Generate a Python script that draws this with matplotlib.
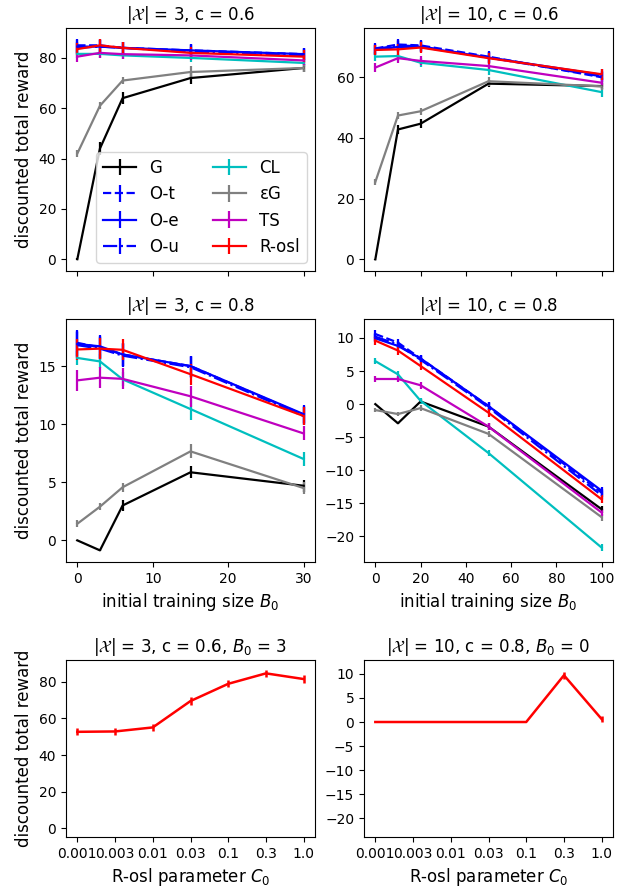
import matplotlib
matplotlib.use("Agg")
import matplotlib.pyplot as plt
import numpy as np

methods = ["G", "O-t", "O-e", "O-u", "CL", "εG", "TS", "R-osl"]
colors = ["k", "b", "b", "b", "c", "gray", "m", "r"]
styles = ["-", "--", "-", "-.", "-", "-", "-", "-"]

B0_small = [0, 3, 6, 15, 30]
B0_large = [0, 10, 20, 50, 100]

# |X|=3, c=0.6
tl_vals = {
    "G":     [0.0, 44.0, 64.0, 72.0, 76.0],
    "O-t":   [85.0, 85.0, 84.0, 83.0, 81.5],
    "O-e":   [84.5, 84.5, 84.0, 83.0, 81.5],
    "O-u":   [84.0, 84.5, 84.0, 82.5, 81.0],
    "CL":    [81.6, 81.6, 81.0, 80.0, 78.0],
    "εG":    [42.0, 61.0, 71.0, 74.4, 76.0],
    "TS":    [80.5, 82.0, 81.5, 81.0, 79.0],
    "R-osl": [83.5, 85.0, 84.0, 82.0, 80.5],
}
tl_err = {
    "G":     [0.3, 2.5, 2.5, 2.5, 1.5],
    "O-t":   [2.5, 2.5, 2.5, 2.5, 2.5],
    "O-e":   [2.5, 2.5, 2.5, 2.5, 2.5],
    "O-u":   [2.5, 2.5, 2.5, 2.5, 2.5],
    "CL":    [1.5, 1.5, 1.5, 1.5, 1.5],
    "εG":    [1.5, 1.5, 1.5, 2.5, 1.5],
    "TS":    [2.0, 2.0, 2.0, 2.0, 2.0],
    "R-osl": [2.5, 2.5, 2.5, 2.5, 2.5],
}

# |X|=10, c=0.6
tr_vals = {
    "G":     [0.0, 42.8, 44.7, 57.9, 57.1],
    "O-t":   [69.5, 70.8, 70.5, 66.8, 60.0],
    "O-e":   [69.0, 70.0, 70.0, 66.5, 60.8],
    "O-u":   [69.3, 70.5, 70.2, 66.5, 60.3],
    "CL":    [66.8, 67.0, 64.8, 62.4, 55.1],
    "εG":    [25.5, 47.4, 48.8, 58.7, 57.0],
    "TS":    [63.2, 66.3, 65.4, 63.7, 58.2],
    "R-osl": [69.0, 69.2, 69.8, 66.3, 61.0],
}
tr_err = {
    "G":     [0.2, 1.5, 1.5, 1.2, 1.0],
    "O-t":   [1.8, 1.8, 1.8, 1.8, 1.8],
    "O-e":   [1.8, 1.8, 1.8, 1.8, 1.8],
    "O-u":   [1.8, 1.8, 1.8, 1.8, 1.8],
    "CL":    [1.5, 1.5, 1.5, 1.5, 1.5],
    "εG":    [1.0, 1.2, 1.2, 1.5, 1.2],
    "TS":    [1.5, 1.5, 1.5, 1.5, 1.5],
    "R-osl": [1.8, 1.8, 1.8, 1.8, 1.8],
}

# |X|=3, c=0.8
ml_vals = {
    "G":     [0.0, -0.86, 3.0, 5.86, 4.7],
    "O-t":   [17.0, 16.6, 16.0, 15.0, 10.8],
    "O-e":   [16.9, 16.7, 16.0, 15.0, 10.86],
    "O-u":   [16.8, 16.5, 15.9, 14.9, 10.7],
    "CL":    [15.7, 15.4, 13.86, 11.3, 7.0],
    "εG":    [1.43, 2.9, 4.57, 7.66, 4.5],
    "TS":    [13.77, 14.0, 13.9, 12.4, 9.2],
    "R-osl": [16.43, 16.5, 16.4, 14.3, 10.7],
}
ml_err = {
    "G":     [0.05, 0.05, 0.5, 0.5, 0.5],
    "O-t":   [1.1, 1.0, 1.0, 0.9, 0.8],
    "O-e":   [1.1, 1.0, 1.0, 0.9, 0.8],
    "O-u":   [1.1, 1.0, 1.0, 0.9, 0.8],
    "CL":    [0.6, 0.6, 0.6, 0.9, 0.6],
    "εG":    [0.3, 0.3, 0.4, 0.6, 0.5],
    "TS":    [0.9, 0.9, 0.9, 0.9, 0.6],
    "R-osl": [0.9, 0.9, 0.9, 0.9, 0.8],
}

# |X|=10, c=0.8
mr_vals = {
    "G":     [0.0, -2.9, 0.4, -3.4, -15.9],
    "O-t":   [10.6, 9.3, 6.9, -0.3, -13.4],
    "O-e":   [9.95, 8.8, 6.9, -0.3, -13.1],
    "O-u":   [10.2, 9.0, 6.7, -0.5, -13.8],
    "CL":    [6.5, 4.5, 0.5, -7.4, -21.7],
    "εG":    [-0.9, -1.5, -0.6, -4.5, -17.1],
    "TS":    [3.8, 3.8, 2.85, -3.4, -16.4],
    "R-osl": [9.6, 8.1, 5.76, -1.3, -14.4],
}
mr_err = {
    "G":     [0.05, 0.1, 0.3, 0.5, 0.5],
    "O-t":   [0.6, 0.6, 0.6, 0.6, 0.6],
    "O-e":   [0.6, 0.6, 0.6, 0.6, 0.6],
    "O-u":   [0.6, 0.6, 0.6, 0.6, 0.6],
    "CL":    [0.5, 0.5, 0.5, 0.5, 0.5],
    "εG":    [0.3, 0.3, 0.4, 0.5, 0.5],
    "TS":    [0.5, 0.5, 0.5, 0.5, 0.5],
    "R-osl": [0.6, 0.6, 0.6, 0.6, 0.6],
}

C0_labels = ["0.001", "0.003", "0.01", "0.03", "0.1", "0.3", "1.0"]
bl_vals = [52.7, 52.9, 55.1, 69.5, 78.9, 84.6, 81.5]
bl_err = [2.0, 2.0, 2.0, 2.0, 2.0, 2.0, 2.0]
br_vals = [0.0, 0.0, 0.0, 0.0, 0.0, 9.7, 0.6]
br_err = [0.05, 0.05, 0.05, 0.05, 0.05, 0.7, 0.7]

LABEL_FS = 12

fig = plt.figure(figsize=(6.24, 8.88), dpi=100)
W, H = 624.0, 888.0

def ax_at(l, r, t, b):
    return fig.add_axes([l / W, 1 - b / H, (r - l) / W, (b - t) / H])

ax_tl = ax_at(66, 315, 28, 271)
ax_tr = ax_at(364, 613, 28, 271)
ax_ml = ax_at(66, 315, 319, 562)
ax_mr = ax_at(364, 613, 319, 562)
ax_bl = ax_at(66, 315, 660, 837)
ax_br = ax_at(364, 613, 660, 837)

def panel(ax, x, vals, errs):
    for m, c, s in zip(methods, colors, styles):
        ax.errorbar(x, vals[m], yerr=errs[m], color=c, linestyle=s, label=m, lw=1.6)

panel(ax_tl, B0_small, tl_vals, tl_err)
panel(ax_tr, B0_large, tr_vals, tr_err)
panel(ax_ml, B0_small, ml_vals, ml_err)
panel(ax_mr, B0_large, mr_vals, mr_err)

ax_tl.set_title(r"$|\mathcal{X}|$ = 3, c = 0.6")
ax_tr.set_title(r"$|\mathcal{X}|$ = 10, c = 0.6")
ax_ml.set_title(r"$|\mathcal{X}|$ = 3, c = 0.8")
ax_mr.set_title(r"$|\mathcal{X}|$ = 10, c = 0.8")

for a in (ax_tl, ax_tr):
    a.tick_params(labelbottom=False)
ax_tl.set_xticks([0, 10, 20, 30])
ax_ml.set_xticks([0, 10, 20, 30])
ax_tr.set_xticks([0, 20, 40, 60, 80, 100])
ax_mr.set_xticks([0, 20, 40, 60, 80, 100])
ax_tl.set_xlim(ax_ml.get_xlim())
ax_tr.set_xlim(ax_mr.get_xlim())

ax_ml.set_xlabel(r"initial training size $B_0$", fontsize=LABEL_FS)
ax_mr.set_xlabel(r"initial training size $B_0$", fontsize=LABEL_FS)

for a in (ax_tl, ax_ml, ax_bl):
    a.set_ylabel("discounted total reward", fontsize=LABEL_FS)

ax_tl.legend(loc="lower right", ncol=2, fontsize=LABEL_FS)

xi = np.arange(len(C0_labels))
ax_bl.errorbar(xi, bl_vals, yerr=bl_err, color="r", lw=1.8)
ax_br.errorbar(xi, br_vals, yerr=br_err, color="r", lw=1.8)
for a in (ax_bl, ax_br):
    a.set_xticks(xi)
    a.set_xticklabels(C0_labels)
    a.set_xlabel(r"R-osl parameter $C_0$", fontsize=LABEL_FS)
ax_bl.set_ylim(ax_tl.get_ylim())
ax_br.set_ylim(ax_mr.get_ylim())
ax_bl.set_yticks([0, 20, 40, 60, 80])
ax_br.set_yticks([-20, -15, -10, -5, 0, 5, 10])
ax_bl.set_title(r"$|\mathcal{X}|$ = 3, c = 0.6, $B_0$ = 3")
ax_br.set_title(r"$|\mathcal{X}|$ = 10, c = 0.8, $B_0$ = 0")

fig.savefig("out.png", dpi=100)
